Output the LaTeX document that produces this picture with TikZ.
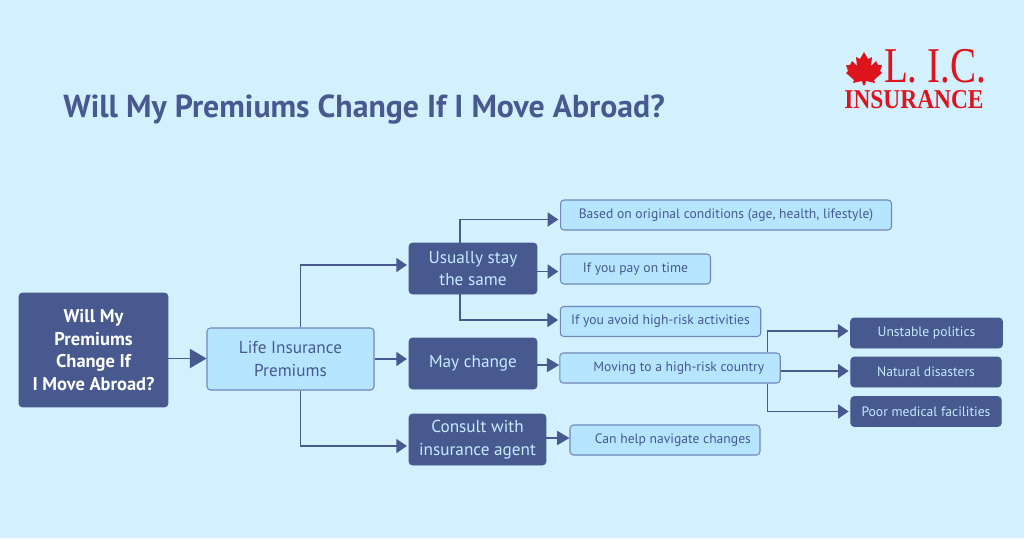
\documentclass[tikz,border=0pt]{standalone}
\usepackage{fontspec}
\setmainfont{PT Sans}
\newfontfamily\logofont{Liberation Serif}
\usetikzlibrary{calc,positioning,arrows.meta}
\definecolor{mybg}{RGB}{211,240,255}
\definecolor{mylight}{RGB}{181,229,255}
\definecolor{mydark}{RGB}{71,89,143}
\definecolor{myedge}{RGB}{112,135,186}
\definecolor{mypale}{RGB}{197,234,255}
\definecolor{myred}{RGB}{222,20,28}
\tikzset{
  darkbox/.style={draw=mydark, fill=mydark, rounded corners=2pt, text=mypale, align=center, inner sep=0pt, font=\fontsize{9.8}{12.9}\selectfont},
  lightbox/.style={draw=myedge, line width=0.6pt, fill=mylight, rounded corners=2pt, text=mydark, align=center, inner sep=0pt, font=\fontsize{7.75}{11}\selectfont},
  smallbox/.style={darkbox, font=\fontsize{7.75}{11}\selectfont},
  link/.style={draw=mydark, line width=0.8pt, -{Triangle[length=6pt,width=8pt]}, shorten >=1pt},
  biglink/.style={link, -{Triangle[length=9.5pt,width=11pt]}, shorten >=0pt},
  midlink/.style={link, -{Triangle[length=7pt,width=8pt]}, shorten >=0pt}
}
\begin{document}
\begin{tikzpicture}[x=0.02cm,y=-0.02cm]
  \useasboundingbox[fill=mybg] (0,0) rectangle (1024,538);
  % title and logo
  \node[text=mydark, anchor=west, inner sep=0pt, font=\fontsize{18.1}{20}\selectfont\bfseries] (title) at (63,110) {Will My Premiums Change If I Move Abroad?};
  \fill[myred] (864,52) -- (868,59) -- (872,57) -- (871,66) -- (876,61) -- (878,65) -- (882,65) -- (880,71) -- (882,73) -- (874,80) -- (875,83) -- (866,81) -- (865,85) -- (863,85) -- (862,81) -- (853,83) -- (854,80) -- (846,73) -- (848,71) -- (846,65) -- (850,65) -- (852,61) -- (857,66) -- (856,57) -- (860,59) -- cycle;
  \node[text=myred, anchor=center, inner sep=0pt, font=\logofont\fontsize{28.5}{30}\selectfont] (lic) at (935,66.5) {\scalebox{0.78}[1]{L. I.C.}};
  \node[text=myred, anchor=center, inner sep=0pt, font=\logofont\fontsize{15.5}{16}\selectfont\bfseries] (brand) at (914,100) {\scalebox{0.86}[1]{INSURANCE}};
  % first two levels
  \node[darkbox, minimum width=2.98cm, minimum height=2.28cm, text=white, font=\fontsize{10.5}{12.9}\selectfont\bfseries] (main) at (93.5,350) {Will My\\Premiums\\Change If\\I Move Abroad?};
  \node[lightbox, minimum width=3.34cm, minimum height=1.24cm, font=\fontsize{9.8}{12.9}\selectfont] (life) at (290.5,359) {Life Insurance\\Premiums};
  \node[darkbox, minimum width=2.56cm, minimum height=1.02cm] (stay) at (473,268.5) {Usually stay\\the same};
  \node[darkbox, minimum width=2.56cm, minimum height=1.02cm] (may) at (473,363.5) {May change};
  \node[darkbox, minimum width=2.74cm, minimum height=1.02cm] (agent) at (477.5,439.5) {Consult with\\insurance agent};
  % answers
  \node[lightbox, minimum width=6.62cm, minimum height=0.6cm] (based) at (726,215) {Based on original conditions (age, health, lifestyle)};
  \node[lightbox, minimum width=3cm, minimum height=0.6cm] (time) at (635.5,269) {If you pay on time};
  \node[lightbox, minimum width=4.01cm, minimum height=0.6cm] (avoid) at (660.5,321.5) {If you avoid high-risk activities};
  \node[lightbox, minimum width=4.41cm, minimum height=0.6cm] (country) at (670,368) {\hspace*{10pt}Moving to a high-risk country};
  \node[lightbox, minimum width=3.8cm, minimum height=0.6cm] (help) at (665,440) {\hspace*{9pt}Can help navigate changes};
  \node[smallbox, minimum width=3.04cm, minimum height=0.6cm] (politics) at (926.5,333) {Unstable politics};
  \node[smallbox, minimum width=3.01cm, minimum height=0.6cm] (disasters) at (926,372) {Natural disasters};
  \node[smallbox, minimum width=3.01cm, minimum height=0.6cm] (medical) at (926,411.5) {Poor medical facilities};
  % connectors
  \draw[biglink] ([yshift=-0.17cm]main.east) -- ([yshift=-0.17cm]main.east -| life.west);
  \draw[link] ([xshift=0.2cm]life.north) |- ([yshift=0.07cm]stay.west);
  \draw[link] (life.east) -- (life.east -| may.west);
  \draw[link] ([xshift=0.2cm]life.south) |- ([yshift=-0.13cm]agent.west);
  \draw[link] ([xshift=-0.26cm]stay.north) |- ([yshift=-0.09cm]based.west);
  \draw[link] ([yshift=-0.06cm]stay.east) -- ([yshift=-0.06cm]stay.east -| time.west);
  \draw[link] ([xshift=-0.26cm]stay.south) |- ([yshift=0.03cm]avoid.west);
  \draw[midlink] ([yshift=-0.03cm]may.east) -- ([yshift=-0.03cm]may.east -| country.west);
  \draw[midlink] ([yshift=0.03cm]agent.east) -- ([yshift=0.03cm]agent.east -| help.west);
  \draw[link] ([xshift=-0.27cm]country.north east) |- ([yshift=0.04cm]politics.west);
  \draw[link] ([yshift=-0.06cm]country.east) -- ([yshift=-0.06cm]country.east -| disasters.west);
  \draw[link] ([xshift=-0.27cm]country.south east) |- (medical.west);
\end{tikzpicture}
\end{document}
